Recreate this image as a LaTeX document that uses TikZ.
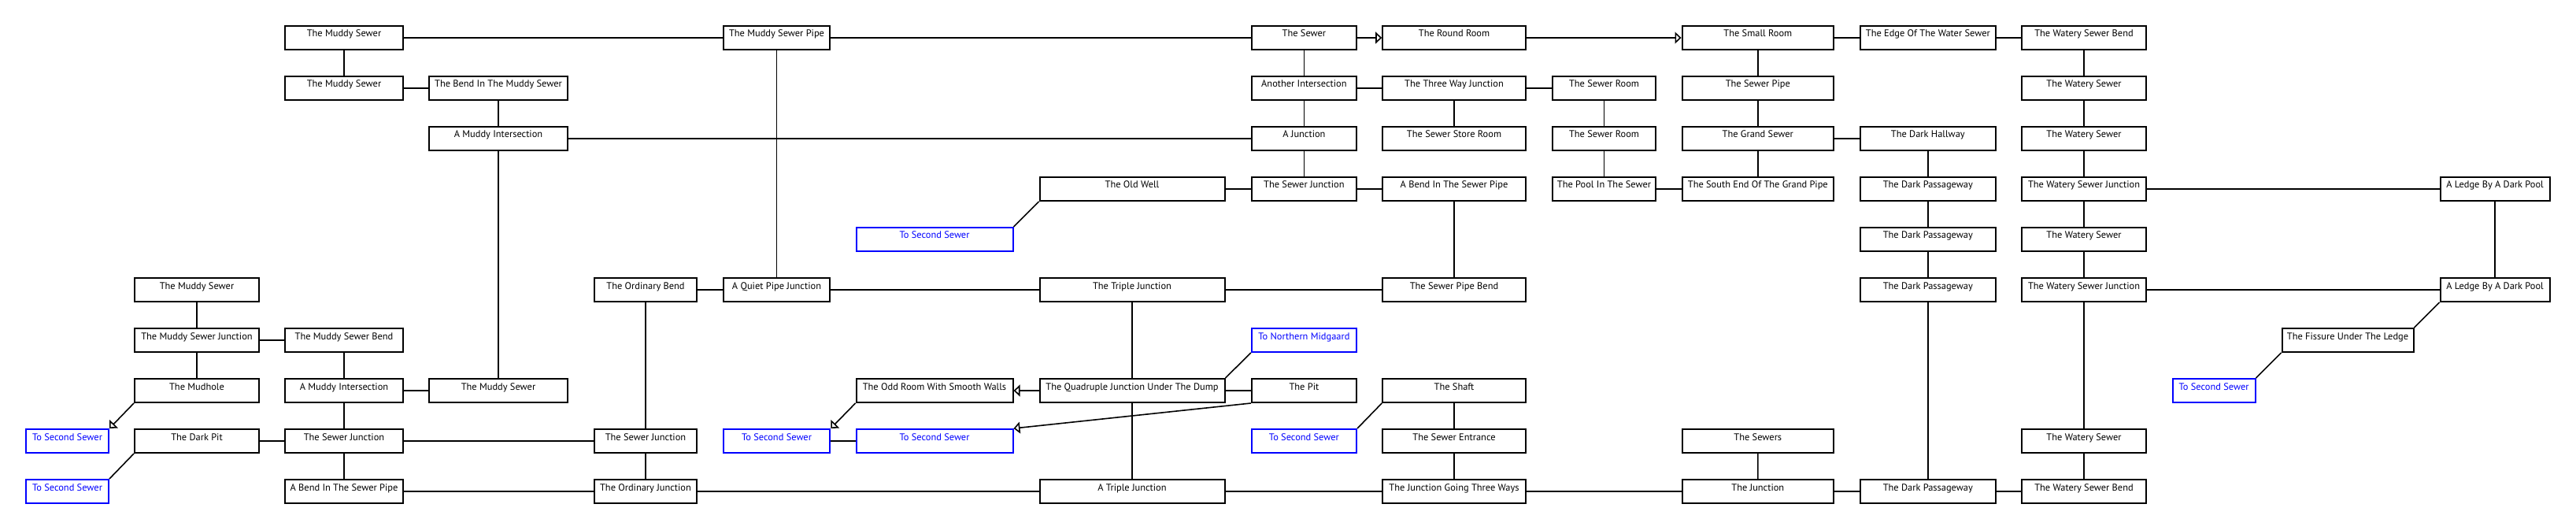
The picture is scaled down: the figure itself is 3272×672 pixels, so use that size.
\documentclass[tikz,border=0pt]{standalone}
\usepackage{fontspec}
\setmainfont{PT Sans}
\usetikzlibrary{arrows.meta}
\definecolor{exitblue}{RGB}{0,0,255}

\begin{document}
\begin{tikzpicture}[x=0.75pt, y=0.75pt,
    room/.style={draw, line width=1.5pt, fill=white, inner sep=0pt, minimum height=22.5pt,
      text height=6.5pt, text depth=8pt, font=\fontsize{9.3}{11}\selectfont},
    exit/.style={room, draw=exitblue, text=exitblue},
    wd/.style={minimum width={(#1-2)*0.75pt}},
    link/.style={line width=1.2pt},
    oneway/.style={link, -{Triangle[open,length=6pt,width=11pt]}}]
  \useasboundingbox (0,0) rectangle (3272,672);

  % row 0
  \node[room, wd=152] (ms0) at (437,624) {The Muddy Sewer};
  \node[room, wd=137.5] (msp) at (986.5,624) {The Muddy Sewer Pipe};
  \node[room, wd=135.3] (sewer) at (1656.4,624) {The Sewer};
  \node[room, wd=183.6] (round) at (1847,624) {The Round Room};
  \node[room, wd=194.5] (small) at (2232.8,624) {The Small Room};
  \node[room, wd=174.3] (edge) at (2448.8,624) {The Edge Of The Water Sewer};
  \node[room, wd=159.6] (wsb0) at (2647,624) {The Watery Sewer Bend};
  % row 1
  \node[room, wd=152] (ms1) at (437,560) {The Muddy Sewer};
  \node[room, wd=178] (bend) at (633,560) {The Bend In The Muddy Sewer};
  \node[room, wd=135.3] (another) at (1656.4,560) {Another Intersection};
  \node[room, wd=183.6] (threeway) at (1847,560) {The Three Way Junction};
  \node[room, wd=133.4] (room1) at (2037.5,560) {The Sewer Room};
  \node[room, wd=194.5] (pipe) at (2232.8,560) {The Sewer Pipe};
  \node[room, wd=159.6] (ws1) at (2647,560) {The Watery Sewer};
  % row 2
  \node[room, wd=178] (mint0) at (633,496) {A Muddy Intersection};
  \node[room, wd=135.3] (ajunc) at (1656.4,496) {A Junction};
  \node[room, wd=183.6] (store) at (1847,496) {The Sewer Store Room};
  \node[room, wd=133.4] (room2) at (2037.5,496) {The Sewer Room};
  \node[room, wd=194.5] (grand) at (2232.8,496) {The Grand Sewer};
  \node[room, wd=174.3] (hall) at (2448.8,496) {The Dark Hallway};
  \node[room, wd=159.6] (ws2) at (2647,496) {The Watery Sewer};
  % row 3
  \node[room, wd=237] (oldwell) at (1438,432) {The Old Well};
  \node[room, wd=135.3] (sjunc) at (1656.4,432) {The Sewer Junction};
  \node[room, wd=183.6] (bendpipe) at (1847,432) {A Bend In The Sewer Pipe};
  \node[room, wd=133.4] (pool) at (2037.5,432) {The Pool In The Sewer};
  \node[room, wd=194.5] (south) at (2232.8,432) {The South End Of The Grand Pipe};
  \node[room, wd=174.3] (dp3) at (2448.8,432) {The Dark Passageway};
  \node[room, wd=159.6] (wsj3) at (2647,432) {The Watery Sewer Junction};
  \node[room, wd=141] (ledge3) at (3169,432) {A Ledge By A Dark Pool};
  % row 4
  \node[exit, wd=201] (ss1) at (1187,368) {To Second Sewer};
  \node[room, wd=174.3] (dp4) at (2448.8,368) {The Dark Passageway};
  \node[room, wd=159.6] (ws4) at (2647,368) {The Watery Sewer};
  % row 5
  \node[room, wd=160] (ms5) at (250,304) {The Muddy Sewer};
  \node[room, wd=132] (ordbend) at (820,304) {The Ordinary Bend};
  \node[room, wd=137.5] (quiet) at (986.5,304) {A Quiet Pipe Junction};
  \node[room, wd=237] (triple) at (1438,304) {The Triple Junction};
  \node[room, wd=183.6] (pipebend) at (1847,304) {The Sewer Pipe Bend};
  \node[room, wd=174.3] (dp5) at (2448.8,304) {The Dark Passageway};
  \node[room, wd=159.6] (wsj5) at (2647,304) {The Watery Sewer Junction};
  \node[room, wd=141] (ledge5) at (3169,304) {A Ledge By A Dark Pool};
  % row 6
  \node[room, wd=160] (msj) at (250,240) {The Muddy Sewer Junction};
  \node[room, wd=152] (msbend) at (437,240) {The Muddy Sewer Bend};
  \node[exit, wd=135.3] (north) at (1656.4,240) {To Northern Midgaard};
  \node[room, wd=169] (fissure) at (2982,240) {The Fissure Under The Ledge};
  % row 7
  \node[room, wd=160] (mudhole) at (250,176) {The Mudhole};
  \node[room, wd=152] (mint7) at (437,176) {A Muddy Intersection};
  \node[room, wd=178] (ms7) at (633,176) {The Muddy Sewer};
  \node[room, wd=201] (odd) at (1187,176) {The Odd Room With Smooth Walls};
  \node[room, wd=237] (quad) at (1438,176) {The Quadruple Junction Under The Dump};
  \node[room, wd=135.3] (pit) at (1656.4,176) {The Pit};
  \node[room, wd=183.6] (shaft) at (1847,176) {The Shaft};
  \node[exit, wd=107] (ss7) at (2812,176) {To Second Sewer};
  % row 8
  \node[exit, wd=107] (ss8a) at (85.5,112) {To Second Sewer};
  \node[room, wd=160] (darkpit) at (250,112) {The Dark Pit};
  \node[room, wd=152] (sj8) at (437,112) {The Sewer Junction};
  \node[room, wd=132] (sj8b) at (820,112) {The Sewer Junction};
  \node[exit, wd=137.5] (ss8b) at (986.5,112) {To Second Sewer};
  \node[exit, wd=201] (ss8c) at (1187,112) {To Second Sewer};
  \node[exit, wd=135.3] (ss8d) at (1656.4,112) {To Second Sewer};
  \node[room, wd=183.6] (entrance) at (1847,112) {The Sewer Entrance};
  \node[room, wd=194.5] (sewers) at (2232.8,112) {The Sewers};
  \node[room, wd=159.6] (ws8) at (2647,112) {The Watery Sewer};
  % row 9
  \node[exit, wd=107] (ss9) at (85.5,48) {To Second Sewer};
  \node[room, wd=152] (abend9) at (437,48) {A Bend In The Sewer Pipe};
  \node[room, wd=132] (ordj) at (820,48) {The Ordinary Junction};
  \node[room, wd=237] (atriple) at (1438,48) {A Triple Junction};
  \node[room, wd=183.6] (threeways) at (1847,48) {The Junction Going Three Ways};
  \node[room, wd=194.5] (junction) at (2232.8,48) {The Junction};
  \node[room, wd=174.3] (dp9) at (2448.8,48) {The Dark Passageway};
  \node[room, wd=159.6] (wsb9) at (2647,48) {The Watery Sewer Bend};

  % two-way passages
  \draw[link] (ms0) -- (msp) (msp) -- (sewer) (small) -- (edge) (edge) -- (wsb0);
  \draw[link] (ms0) -- (ms1) (ms1) -- (bend) (bend) -- (mint0) (mint0) -- (ajunc) (mint0) -- (ms7);
  \draw[link] (msp) -- (quiet) (sewer) -- (another) (another) -- (threeway) (threeway) -- (room1);
  \draw[link] (another) -- (ajunc) (threeway) -- (store) (room1) -- (room2) (small) -- (pipe) (pipe) -- (grand) (grand) -- (hall);
  \draw[link] (wsb0) -- (ws1) (ws1) -- (ws2) (ws2) -- (wsj3) (wsj3) -- (ws4) (ws4) -- (wsj5) (wsj5) -- (ws8) (ws8) -- (wsb9);
  \draw[link] (ajunc) -- (sjunc) (oldwell) -- (sjunc) (sjunc) -- (bendpipe) (room2) -- (pool) (pool) -- (south) (grand) -- (south);
  \draw[link] (hall) -- (dp3) (dp3) -- (dp4) (dp4) -- (dp5) (dp5) -- (dp9);
  \draw[link] (wsj3) -- (ledge3) (ledge3) -- (ledge5) (wsj5) -- (ledge5);
  \draw[link] (oldwell.south west) -- (ss1.north east);
  \draw[link] (bendpipe) -- (pipebend) (triple) -- (pipebend) (quiet) -- (triple) (ordbend) -- (quiet) (ordbend) -- (sj8b);
  \draw[link] (triple) -- (quad) (quad) -- (atriple) (quad) -- (pit) (quad.north east) -- (north.south west);
  \draw[link] (ledge5.south west) -- (fissure.north east) (fissure.south west) -- (ss7.north east);
  \draw[link] (ms5) -- (msj) (msj) -- (msbend) (msj) -- (mudhole) (msbend) -- (mint7) (mint7) -- (ms7) (mint7) -- (sj8);
  \draw[link] (darkpit) -- (sj8) (darkpit.south west) -- (ss9.north east) (sj8) -- (sj8b) (sj8) -- (abend9) (sj8b) -- (ordj);
  \draw[link] (abend9) -- (ordj) (ordj) -- (atriple) (atriple) -- (threeways) (threeways) -- (junction) (junction) -- (dp9) (dp9) -- (wsb9);
  \draw[link] (sewers) -- (junction) (shaft) -- (entrance) (entrance) -- (threeways) (shaft.south west) -- (ss8d.north east);
  \draw[link] (ss8b) -- (ss8c);
  % one-way passages
  \draw[oneway] (sewer) -- (round);
  \draw[oneway] (round) -- (small);
  \draw[oneway] (quad) -- (odd);
  \draw[oneway] (odd.south west) -- (ss8b.north east);
  \draw[oneway] (pit.south west) -- (ss8c.north east);
  \draw[oneway] (mudhole.south west) -- (ss8a.north east);
\end{tikzpicture}
\end{document}
